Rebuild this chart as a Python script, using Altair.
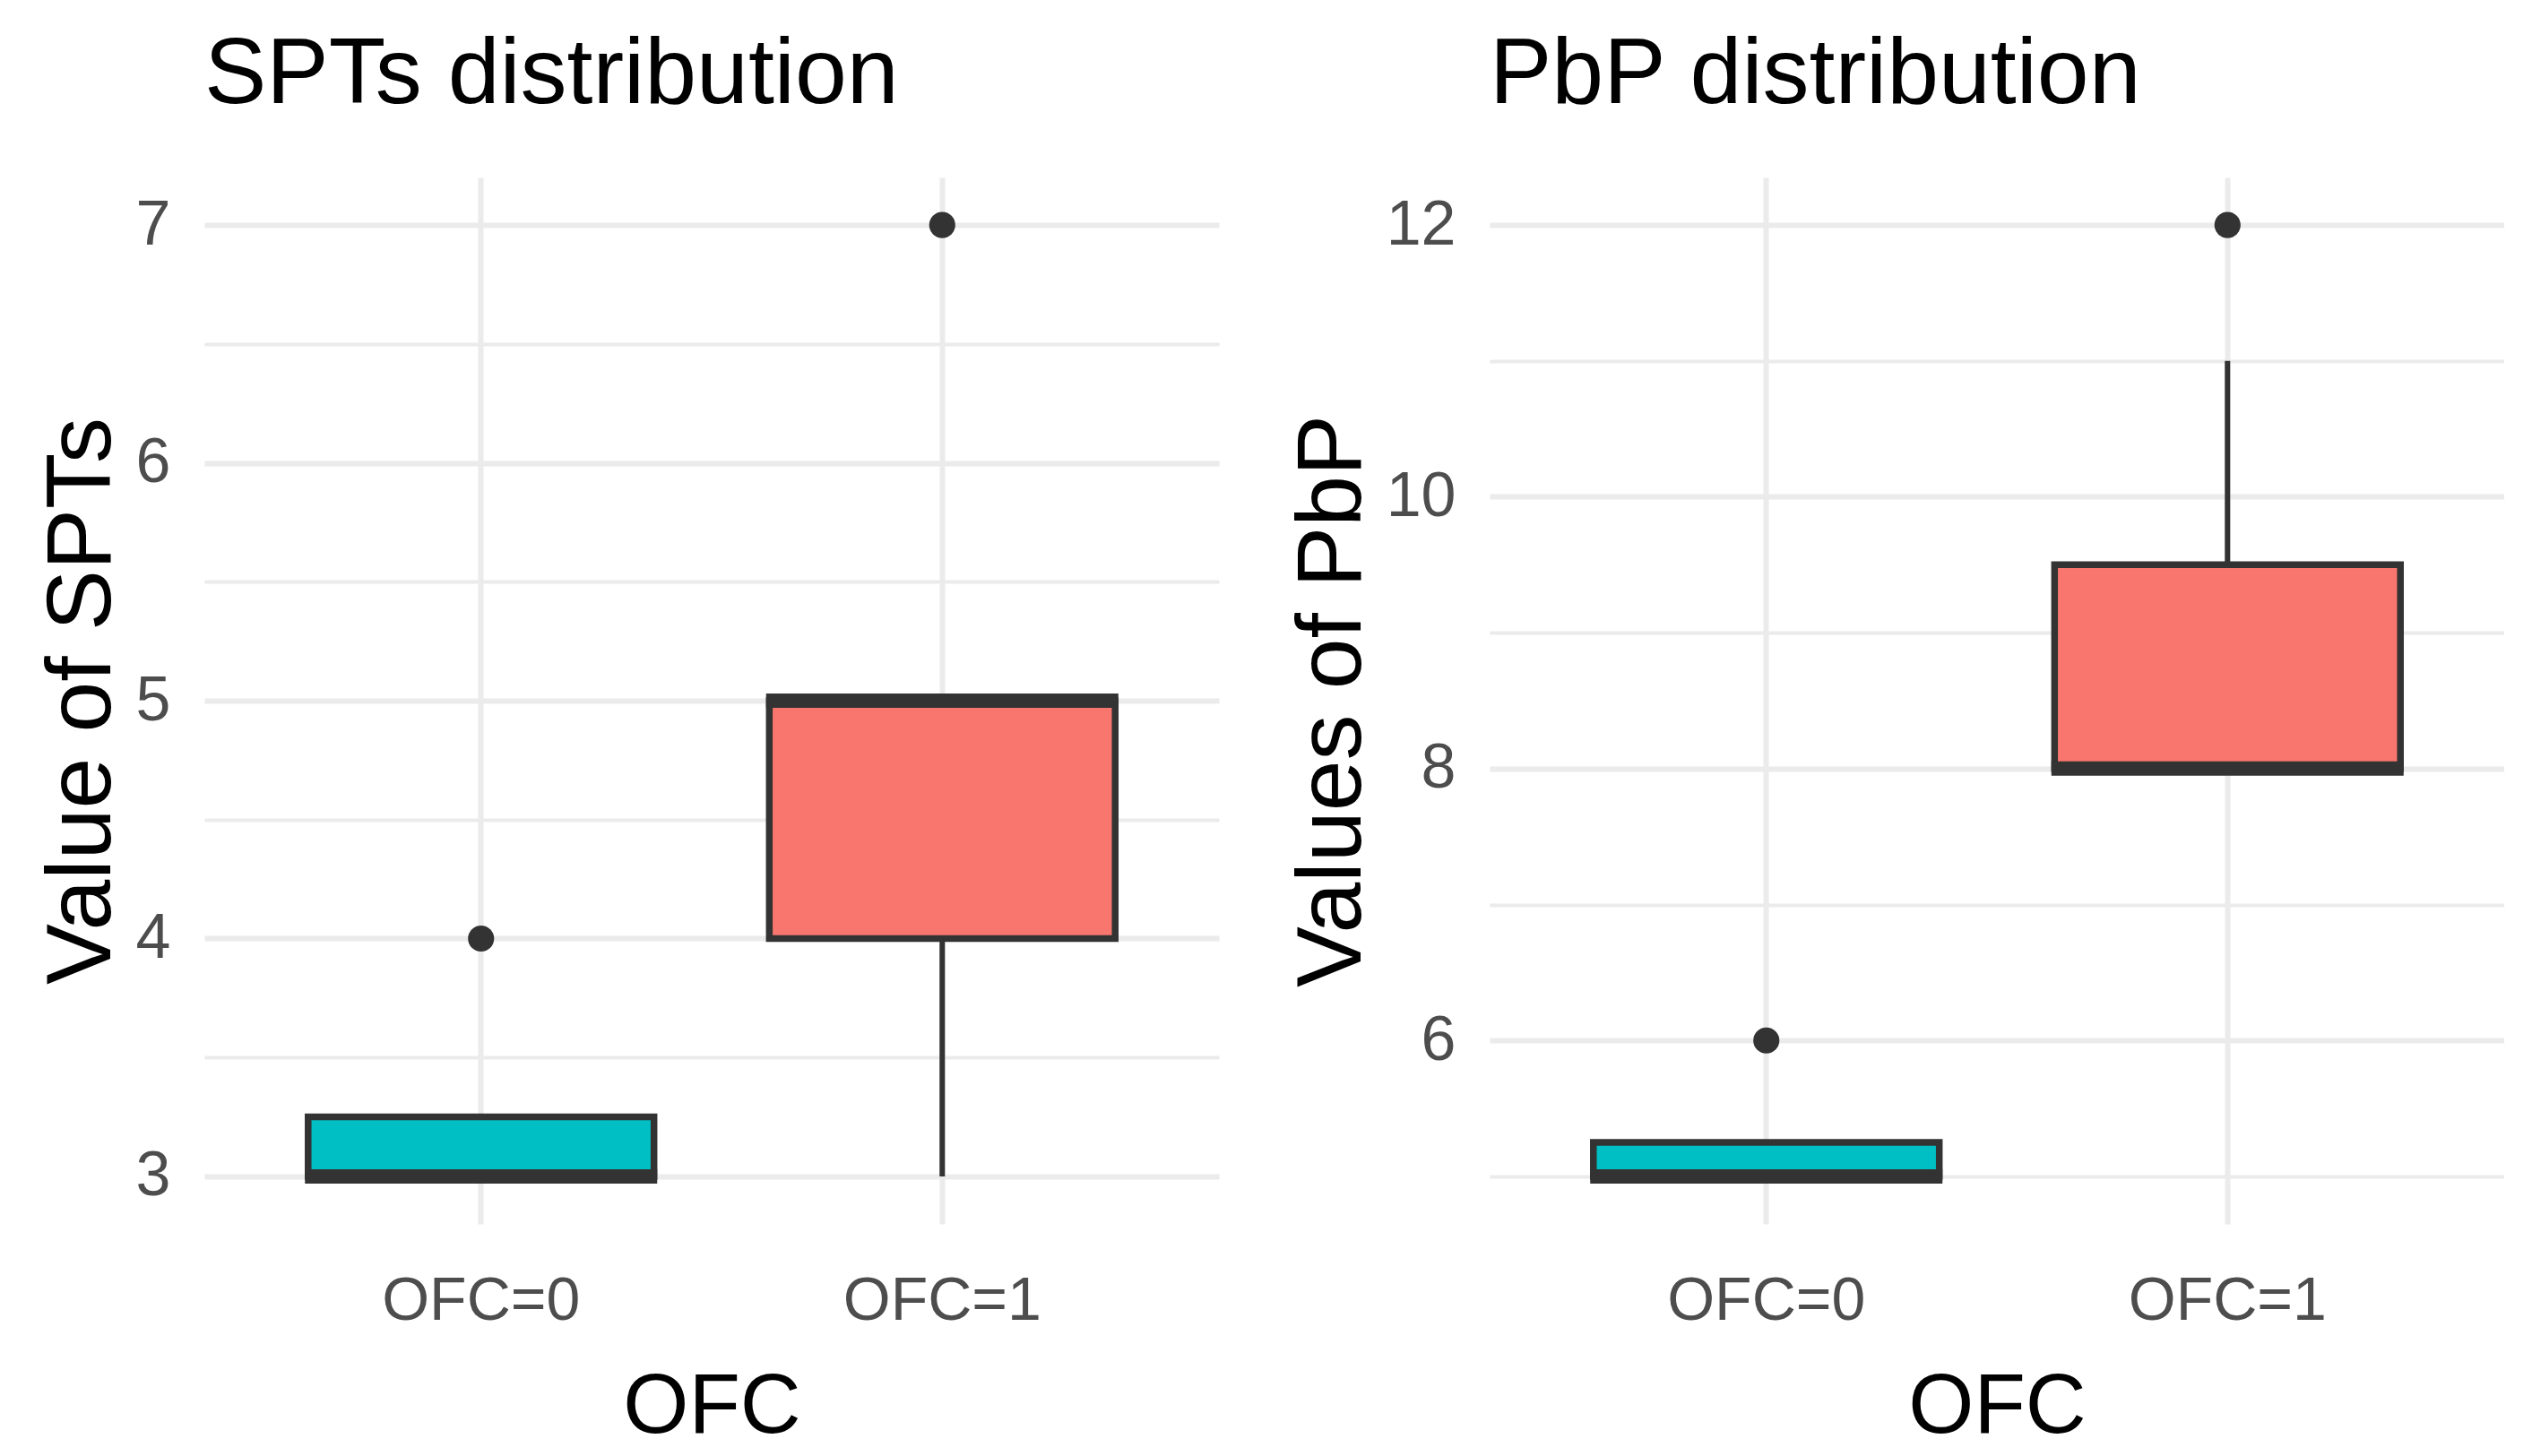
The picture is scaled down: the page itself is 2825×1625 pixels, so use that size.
import altair as alt
import pandas as pd

groups = ["OFC=0", "OFC=1"]
colors = ["#00BFC4", "#F8766D"]

# SPTs box statistics
spt_q1 = [3.0, 4.0]
spt_med = [3.0, 5.0]
spt_q3 = [3.25, 5.0]
spt_wlo = [3.0, 3.0]
spt_whi = [3.25, 5.0]
spt_out_grp = ["OFC=0", "OFC=1"]
spt_out_val = [4, 7]
spt_ticks = [3, 3.5, 4, 4.5, 5, 5.5, 6, 6.5, 7]

# PbP box statistics
pbp_q1 = [5.0, 8.0]
pbp_med = [5.0, 8.0]
pbp_q3 = [5.25, 9.5]
pbp_wlo = [5.0, 8.0]
pbp_whi = [5.25, 11.0]
pbp_out_grp = ["OFC=0", "OFC=1"]
pbp_out_val = [6, 12]
pbp_ticks = [5, 6, 7, 8, 9, 10, 11, 12]

FONT = "Liberation Sans"
DARK = "#333333"
GRID = "#EBEBEB"
W, H = 1132, 1168


def panel(q1, med, q3, wlo, whi, ogrp, oval, domain, ticks, mod, title, ytitle):
    df = pd.DataFrame({"grp": groups, "q1": q1, "med": med, "q3": q3,
                       "wlo": wlo, "whi": whi})
    od = pd.DataFrame({"grp": ogrp, "val": oval})
    test = f"datum.value % {mod} === 0"
    x = alt.X("grp:N", sort=groups,
              scale=alt.Scale(paddingInner=0.25, paddingOuter=0.225),
              axis=alt.Axis(title="OFC", grid=True, bandPosition=0.5,
                            gridColor=GRID, gridWidth=6, ticks=False, domain=False,
                            labelAngle=0, labelFontSize=68, labelColor="#4D4D4D",
                            labelLimit=0,
                            labelPadding=52, titleFontSize=94, titleColor="black",
                            titleFontWeight="normal", titlePadding=38))
    y_scale = alt.Scale(domain=domain, nice=False, zero=False)
    y_axis = alt.Axis(title=ytitle, values=ticks,
                      labelExpr=f"{test} ? '' + datum.value : ''",
                      gridColor=GRID,
                      gridWidth={"condition": {"test": test, "value": 6}, "value": 4},
                      ticks=False, domain=False, labelFontSize=70, labelLimit=0,
                      labelColor="#4D4D4D", labelPadding=38, titleFontSize=102,
                      titleColor="black", titleFontWeight="normal", titlePadding=8)
    base = alt.Chart(df)
    whisk = base.mark_rule(color=DARK, strokeWidth=6).encode(
        x=x, y=alt.Y("wlo:Q", scale=y_scale, axis=y_axis), y2="whi:Q")
    box = base.mark_bar(stroke=DARK, strokeWidth=7.5, opacity=1).encode(
        x=x, y=alt.Y("q1:Q", scale=y_scale, axis=y_axis), y2="q3:Q",
        color=alt.Color("grp:N", scale=alt.Scale(domain=groups, range=colors),
                        legend=None))
    medl = base.mark_tick(color=DARK, thickness=16, size=393, opacity=1).encode(
        x=x, y=alt.Y("med:Q", scale=y_scale, axis=y_axis))
    outs = alt.Chart(od).mark_circle(color=DARK, size=850, opacity=1).encode(
        x=x, y=alt.Y("val:Q", scale=y_scale, axis=y_axis))
    return alt.layer(whisk, box, medl, outs).properties(
        width=W, height=H,
        title=alt.TitleParams(title, anchor="start", frame="group", fontSize=104,
                              fontWeight="normal", color="black", font=FONT,
                              baseline="alphabetic", offset=-21))


left = panel(spt_q1, spt_med, spt_q3, spt_wlo, spt_whi, spt_out_grp, spt_out_val,
             [2.8, 7.2], spt_ticks, 1, "SPTs distribution", "Value of SPTs")
right = panel(pbp_q1, pbp_med, pbp_q3, pbp_wlo, pbp_whi, pbp_out_grp, pbp_out_val,
              [4.65, 12.35], pbp_ticks, 2, "PbP distribution", "Values of PbP")

chart = alt.hconcat(left, right, spacing=75).properties(
    padding={"left": 32, "top": 24, "right": 0, "bottom": 0},
    background="white",
).configure_view(stroke=None).configure_axis(
    labelFont=FONT, titleFont=FONT
).configure_title(font=FONT)

chart.save("out.html", embed_options={"renderer": "svg", "actions": False})
